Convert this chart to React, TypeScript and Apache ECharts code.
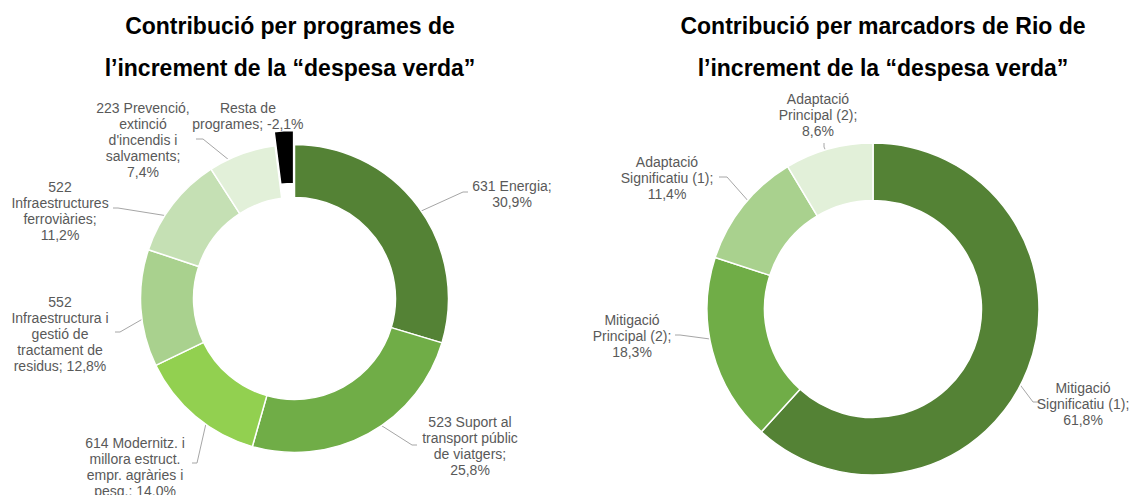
import React, { useEffect, useRef } from 'react';
import * as echarts from 'echarts';

// ---- Data ----
const programCategories = [
  '631 Energia',
  '523 Suport al\ntransport públic\nde viatgers',
  '614 Modernitz. i\nmillora estruct.\nempr. agràries i\npesq.',
  '552\nInfraestructura i\ngestió de\ntractament de\nresidus',
  '522\nInfraestructures\nferroviàries',
  "223 Prevenció,\nextinció\nd'incendis i\nsalvaments",
  'Resta de\nprogrames',
];
const programValues = [30.9, 25.8, 14.0, 12.8, 11.2, 7.4, -2.1];

const rioCategories = [
  'Mitigació\nSignificatiu (1)',
  'Mitigació\nPrincipal (2)',
  'Adaptació\nSignificatiu (1)',
  'Adaptació\nPrincipal (2)',
];
const rioValues = [61.8, 18.3, 11.4, 8.6];

const titleLeft = 'Contribució per programes de\nl’increment de la “despesa verda”';
const titleRight = 'Contribució per marcadors de Rio de\nl’increment de la “despesa verda”';

// ---- Styles / layout ----
const programColors = ['#548235', '#70AD47', '#92D050', '#A9D18E', '#C5E0B4', '#E2F0D9', '#000000'];
const rioColors = ['#548235', '#70AD47', '#A9D18E', '#E2F0D9'];

type LabelPos = { x: number; y: number; same: boolean; line: number[][] | null };

const programLabelPos: LabelPos[] = [
  { x: 512, y: 194, same: false, line: [[397, 222], [463, 192], [468, 192]] },
  { x: 470, y: 446, same: false, line: [[357, 410], [412, 445], [417, 445]] },
  { x: 135, y: 467, same: true, line: [[212, 397], [197, 463], [192, 463]] },
  { x: 60, y: 334, same: true, line: [[167, 305], [120, 332], [115, 332]] },
  { x: 60, y: 211, same: false, line: [[193, 220], [118, 208], [113, 208]] },
  { x: 143, y: 140, same: false, line: [[250, 177], [203, 139], [196, 139]] },
  { x: 282, y: 114, same: true, line: null },
];

const rioLabelPos: LabelPos[] = [
  { x: 1083, y: 404, same: false, line: [[1000, 358], [1033, 402], [1040, 402]] },
  { x: 632, y: 336, same: false, line: [[740, 343], [680, 335], [675, 335]] },
  { x: 667, y: 178, same: false, line: [[765, 220], [727, 177], [719, 177]] },
  { x: 818, y: 115, same: false, line: [[837, 175], [824, 147], [824, 143]] },
];

const FONT = "'Liberation Sans', Arial, sans-serif";

function fmt(v: number) {
  return v.toFixed(1).replace('.', ',') + '%';
}

function buildData(cats: string[], vals: number[], colors: string[], pos: LabelPos[], explodeNegative: boolean) {
  return cats.map((name, i) => {
    const item: any = {
      name,
      value: Math.abs(vals[i]),
      signed: vals[i],
      itemStyle: { color: colors[i] },
      label: {
        formatter: name + ';' + (pos[i].same ? ' ' : '\n') + fmt(vals[i]),
      },
    };
    if (!pos[i].line) item.labelLine = { show: false };
    if (explodeNegative && vals[i] < 0) item.selected = true;
    return item;
  });
}

function makeLayout(pos: LabelPos[]) {
  return (params: any) => {
    const p = pos[params.dataIndex];
    const out: any = { x: p.x, y: p.y, align: 'center', verticalAlign: 'middle' };
    if (p.line) out.labelLinePoints = p.line;
    return out;
  };
}

const labelStyle = {
  show: true,
  position: 'outside',
  color: '#595959',
  fontSize: 14,
  lineHeight: 16,
  fontFamily: FONT,
  align: 'center',
};

const titleStyle = {
  align: 'center',
  verticalAlign: 'middle',
  fontSize: 23,
  fontWeight: 'bold',
  fontFamily: FONT,
  lineHeight: 42,
  fill: '#000000',
};

export default function App() {
  const ref = useRef<HTMLDivElement>(null);

  useEffect(() => {
    document.body.style.margin = '0';
    if (!ref.current) return;
    const chart = echarts.init(ref.current, undefined, { renderer: 'svg' });
    chart.setOption({
      animation: false,
      backgroundColor: '#ffffff',
      graphic: [
        { type: 'text', x: 290, y: 47, style: { ...titleStyle, text: titleLeft } },
        { type: 'text', x: 883, y: 47, style: { ...titleStyle, text: titleRight } },
      ],
      series: [
        {
          type: 'pie',
          center: [294.5, 298.5],
          radius: [101, 154],
          startAngle: 90,
          clockwise: true,
          avoidLabelOverlap: false,
          selectedMode: 'multiple',
          selectedOffset: 14,
          itemStyle: { borderColor: '#ffffff', borderWidth: 1.5 },
          label: labelStyle,
          labelLine: { show: true, lineStyle: { color: '#A6A6A6', width: 1 } },
          labelLayout: makeLayout(programLabelPos),
          emphasis: { disabled: true },
          data: buildData(programCategories, programValues, programColors, programLabelPos, true),
        },
        {
          type: 'pie',
          center: [873, 309],
          radius: [108.5, 166],
          startAngle: 90,
          clockwise: true,
          avoidLabelOverlap: false,
          itemStyle: { borderColor: '#ffffff', borderWidth: 1.5 },
          label: labelStyle,
          labelLine: { show: true, lineStyle: { color: '#A6A6A6', width: 1 } },
          labelLayout: makeLayout(rioLabelPos),
          emphasis: { disabled: true },
          data: buildData(rioCategories, rioValues, rioColors, rioLabelPos, false),
        },
      ],
    });
    return () => chart.dispose();
  }, []);

  return <div ref={ref} style={{ width: 1137, height: 495 }} />;
}
